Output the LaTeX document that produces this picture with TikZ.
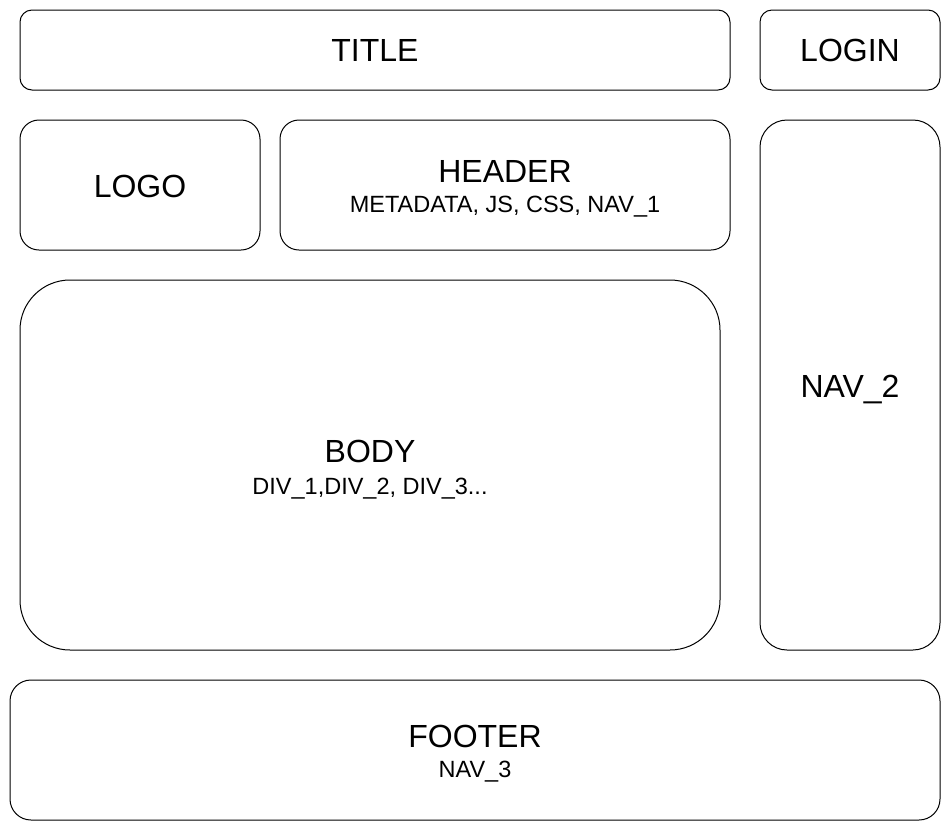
\documentclass[tikz,border=0pt]{standalone}
\usepackage{fontspec}
\setmainfont{Liberation Sans}
\begin{document}
\begin{tikzpicture}[x=1pt,y=-1pt,
  panel/.style={draw=black,line width=1pt,fill=white},
  big/.style={font=\fontsize{32}{38}\selectfont,anchor=base,inner sep=0pt},
  small/.style={font=\fontsize{23.5}{28}\selectfont,anchor=base,inner sep=0pt}]
\useasboundingbox (0,0) rectangle (951,831);
\fill[white] (0,0) rectangle (951,831);
% boxes
\draw[panel,rounded corners=12pt] (20,10) rectangle (730,90);
\draw[panel,rounded corners=12pt] (760,10) rectangle (940,90);
\draw[panel,rounded corners=19pt] (20,120) rectangle (260,250);
\draw[panel,rounded corners=19pt] (280,120) rectangle (730,250);
\draw[panel,rounded corners=27pt] (760,120) rectangle (940,650);
\draw[panel,rounded corners=50pt] (20,280) rectangle (720,650);
\draw[panel,rounded corners=21pt] (10,680) rectangle (940,820);
% texts
\node[big] (title) at (375,61) {TITLE};
\node[big] (login) at (850,61) {LOGIN};
\node[big] (logo) at (140,197) {LOGO};
\node[big] (header) at (505,182) {HEADER};
\node[small] (headersub) at (505,212) {METADATA, JS, CSS, NAV\_1};
\node[big] (nav2) at (850,397) {NAV\_2};
\node[big] (body) at (370,462) {BODY};
\node[small] (bodysub) at (370,494) {DIV\_1,DIV\_2, DIV\_3...};
\node[big] (footer) at (475,747) {FOOTER};
\node[small] (footersub) at (475,777) {NAV\_3};
\end{tikzpicture}
\end{document}
